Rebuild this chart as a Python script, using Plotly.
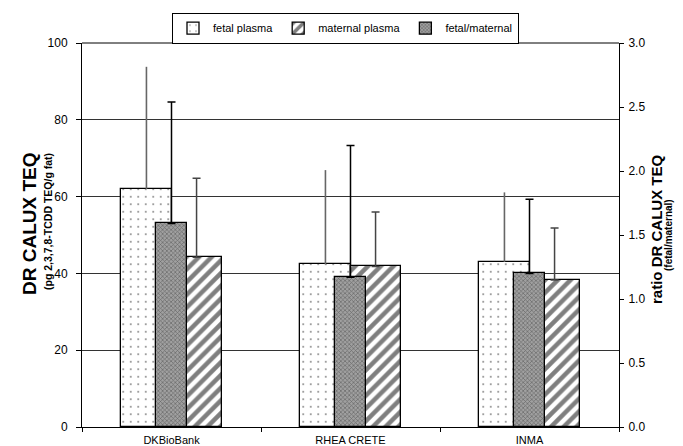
import plotly.graph_objects as go

categories = ["DKBioBank", "RHEA CRETE", "INMA"]
fetal_plasma = [62.0, 42.4, 43.0]
fetal_plasma_sd = [31.8, 24.5, 18.1]
maternal_plasma = [44.2, 41.8, 38.3]
maternal_plasma_sd = [20.6, 14.2, 13.5]
ratio = [1.59, 1.17, 1.20]
ratio_sd = [0.95, 1.03, 0.58]

FONT = "Liberation Sans, Arial, sans-serif"
OFF = 8  # default page body margin
# target plot area in screenshot pixels: x 82..619, y 43..427
W, H = 683 - OFF, 446 - OFF
L, T = 82 - OFF, 43 - OFF
PW, PH = 619 - 82, 427 - 43
R, B = W - L - PW, H - T - PH


def px_x(px):
    return (px - 82) / PW


def px_y(py):
    return (427 - py) / PH


fig = go.Figure()

fig.add_trace(go.Bar(
    name="fetal plasma", x=categories, y=fetal_plasma,
    offset=-0.28, width=0.28,
    marker=dict(color="white", line=dict(color="black", width=1.3),
                pattern=dict(shape=".", size=7.5, solidity=0.05,
                             fgcolor="black", bgcolor="white", fillmode="overlay")),
    error_y=dict(type="data", array=fetal_plasma_sd, arrayminus=[0, 0, 0],
                 symmetric=False, color="#666666", thickness=1.6, width=0),
))
fig.add_trace(go.Bar(
    name="maternal plasma", x=categories, y=maternal_plasma,
    offset=0.0, width=0.28,
    marker=dict(color="white", line=dict(color="black", width=1.3),
                pattern=dict(shape="/", size=9, solidity=0.5,
                             fgcolor="black", bgcolor="white", fillmode="overlay")),
    error_y=dict(type="data", array=maternal_plasma_sd, arrayminus=[0, 0, 0],
                 symmetric=False, color="#444444", thickness=1.5, width=4),
))
fig.add_trace(go.Bar(
    name="fetal/maternal", x=categories, y=ratio, yaxis="y2",
    offset=-0.085, width=0.17,
    marker=dict(color="#909090", line=dict(color="black", width=1.3),
                pattern=dict(shape="x", size=3, solidity=0.4,
                             fgcolor="#303030", bgcolor="#a0a0a0", fillmode="overlay")),
    error_y=dict(type="data", array=ratio_sd, arrayminus=[0, 0, 0],
                 symmetric=False, color="black", thickness=1.5, width=4),
))

fig.update_layout(
    width=W, height=H,
    margin=dict(l=L, r=R, t=T, b=B, pad=0, autoexpand=False),
    paper_bgcolor="white", plot_bgcolor="white",
    font=dict(family=FONT, size=12, color="black"),
    showlegend=True,
    legend=dict(orientation="h", x=px_x(345.5), xanchor="center", y=px_y(12.7), yanchor="top",
                bordercolor="black", borderwidth=1, bgcolor="white",
                font=dict(size=11), itemwidth=30, tracegroupgap=0),
    xaxis=dict(type="category", showline=True, linecolor="black", linewidth=1,
               ticks="outside", tickson="boundaries", ticklen=4, tickcolor="black",
               ticklabelstandoff=3,
               showgrid=False, tickfont=dict(size=11), range=[-0.5, 2.5], automargin=False),
    yaxis=dict(range=[0, 100], dtick=20, showline=True, linecolor="black", linewidth=1,
               ticks="outside", ticklen=5, tickcolor="black", ticklabelstandoff=6,
               showgrid=True, gridcolor="#333333", gridwidth=1, zeroline=False,
               tickfont=dict(size=12), automargin=False),
    yaxis2=dict(range=[0, 3], dtick=0.5, tickformat=".1f", overlaying="y", side="right",
                showline=True, linecolor="black", linewidth=1,
                ticks="outside", ticklen=4, tickcolor="black", ticklabelstandoff=2,
                showgrid=False, zeroline=False, tickfont=dict(size=12), automargin=False),
    bargap=0, barmode="overlay",
)

# top border line of the plot area (value 100 grid)
fig.add_shape(type="line", xref="paper", yref="paper", x0=0, x1=1, y0=1, y1=1,
              line=dict(color="black", width=1))

annots = [
    ("<b>DR CALUX TEQ</b>", px_x(29), px_y(223), 19),
    ("<b>(pg 2,3,7,8-TCDD TEQ/g fat)</b>", px_x(48), px_y(222), 10.5),
    ("<b>ratio DR CALUX TEQ</b>", px_x(656), px_y(229), 15),
    ("<b>(fetal/maternal)</b>", px_x(668), px_y(235), 10),
]
for text, x, y, size in annots:
    fig.add_annotation(text=text, x=x, y=y, xref="paper", yref="paper",
                       xanchor="center", yanchor="middle", textangle=-90,
                       showarrow=False, font=dict(family=FONT, size=size, color="black"))

fig.write_html("out.html")
